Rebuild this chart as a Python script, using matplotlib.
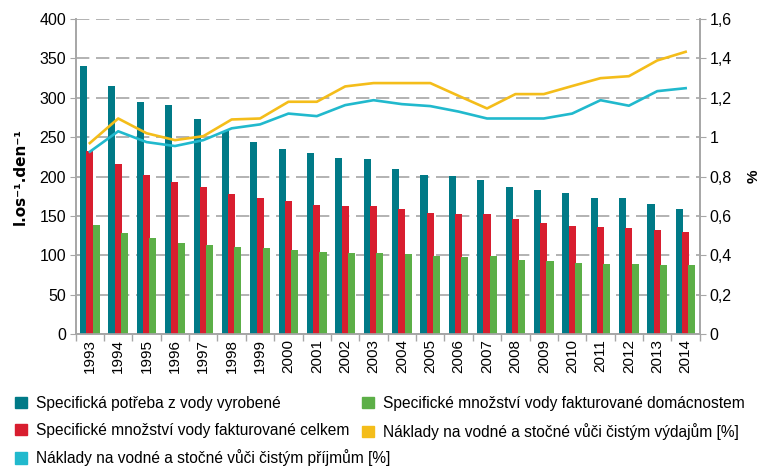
import numpy as np
import matplotlib
matplotlib.use('Agg')
import matplotlib.pyplot as plt
from matplotlib.patches import Patch
from matplotlib.ticker import FuncFormatter, MultipleLocator

plt.rcParams['font.family'] = ['Liberation Sans', 'DejaVu Sans']

# Data
roky = [str(r) for r in range(1993, 2015)]
potreba_vyrobena = [340, 315, 295, 291, 273, 258, 244, 235, 230, 224, 222, 210,
                    202, 201, 196, 187, 183, 179, 173, 173, 165, 159]
fakturovano_celkem = [232, 216, 202, 193, 187, 178, 173, 169, 164, 163, 163, 159,
                      154, 152, 152, 146, 141, 137, 136, 135, 132, 130]
fakturovano_domacnosti = [138, 128, 122, 116, 113, 110, 109, 107, 104, 103, 103, 102,
                          99, 98, 99, 94, 93, 90, 89, 89, 88, 88]
naklady_vydaje = [0.97, 1.095, 1.02, 0.985, 1.005, 1.09, 1.095, 1.18, 1.18, 1.258, 1.275, 1.275,
                  1.275, 1.21, 1.146, 1.219, 1.219, 1.26, 1.30, 1.31, 1.39, 1.434]
naklady_prijmy = [0.926, 1.03, 0.975, 0.955, 0.985, 1.045, 1.065, 1.12, 1.107, 1.163, 1.188, 1.168,
                  1.158, 1.13, 1.095, 1.095, 1.095, 1.12, 1.188, 1.16, 1.234, 1.249]

c_teal = '#007A87'
c_red = '#D81E2F'
c_green = '#5CAF47'
c_yellow = '#F4BD1A'
c_cyan = '#21B9CD'
c_grid = '#A6A6A6'

fig = plt.figure(figsize=(7.64, 4.67), dpi=100)
ax = fig.add_axes([0.099, 0.285, 0.817, 0.674])
ax2 = ax.twinx()

x = np.arange(len(roky))
w = 0.25
ax.bar(x - 0.22, potreba_vyrobena, w, color=c_teal, zorder=3)
ax.bar(x, fakturovano_celkem, w, color=c_red, zorder=3)
ax.bar(x + 0.22, fakturovano_domacnosti, w, color=c_green, zorder=4)

ax2.plot(x, naklady_vydaje, color=c_yellow, lw=1.9)
ax2.plot(x, naklady_prijmy, color=c_cyan, lw=1.9)

ax.set_xlim(-0.5, len(roky) - 0.5)
ax.set_ylim(0, 400)
ax2.set_ylim(0, 1.6)
ax.yaxis.set_major_locator(MultipleLocator(50))
ax2.yaxis.set_major_locator(MultipleLocator(0.2))
ax2.yaxis.set_major_formatter(FuncFormatter(lambda v, p: ('%g' % round(v, 1)).replace('.', ',')))

ax.grid(axis='y', color=c_grid, lw=1.2, linestyle=(0, (8, 4)), zorder=0)
ax.set_axisbelow(True)

ax.set_xticks(x)
ax.set_xticklabels(roky, rotation=90, fontsize=11)
ax.set_xticks(np.arange(-0.5, len(roky)), minor=True)
ax.tick_params(axis='x', which='major', length=0, pad=4)
ax.tick_params(axis='x', which='minor', length=5, color=c_grid, width=1)
ax.tick_params(axis='y', length=4, color=c_grid, labelsize=11.5, pad=3)
ax2.tick_params(axis='y', length=4, color=c_grid, labelsize=11.5, pad=3)

for a in (ax, ax2):
    a.spines['top'].set_visible(False)
    for s in ('left', 'right', 'bottom'):
        a.spines[s].set_color(c_grid)
        a.spines[s].set_linewidth(1.2)

ax.set_ylabel('l.os⁻¹.den⁻¹', fontsize=11, fontweight='bold', family=['DejaVu Sans'], labelpad=8)
ax2.set_ylabel('%', fontsize=11, fontweight='bold', labelpad=11)

# legenda: levý sloupec a pravý sloupec zvlášť
leg_opts = dict(loc='upper left', frameon=False, prop={'size': 11.2},
                handlelength=0.75, handleheight=0.75, handletextpad=0.6,
                labelspacing=0.75, borderaxespad=0)
levy = [
    Patch(color=c_teal, label='Specifická potřeba z vody vyrobené'),
    Patch(color=c_red, label='Specifické množství vody fakturované celkem'),
    Patch(color=c_cyan, label='Náklady na vodné a stočné vůči čistým příjmům [%]'),
]
pravy = [
    Patch(color=c_green, label='Specifické množství vody fakturované domácnostem'),
    Patch(color=c_yellow, label='Náklady na vodné a stočné vůči čistým výdajům [%]'),
]
fig.legend(handles=levy, bbox_to_anchor=(0.012, 0.165), **leg_opts)
fig.legend(handles=pravy, bbox_to_anchor=(0.466, 0.165), **leg_opts)

fig.savefig('out.png', dpi=100)
